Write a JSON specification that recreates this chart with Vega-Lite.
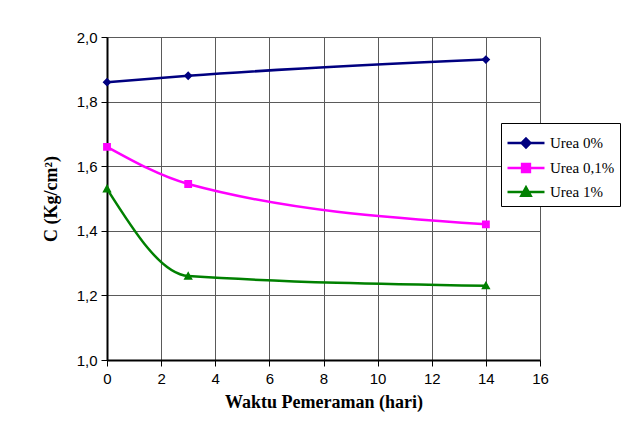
{
  "$schema": "https://vega.github.io/schema/vega-lite/v6.json",
  "width": 433,
  "height": 323,
  "autosize": {"type": "none"},
  "padding": {"left": 107, "top": 37, "right": 101, "bottom": 79},
  "background": "white",
  "data": {
    "values": [
      {"hari": 0, "c": 1.86, "series": "Urea 0%"},
      {"hari": 3, "c": 1.88, "series": "Urea 0%"},
      {"hari": 14, "c": 1.93, "series": "Urea 0%"},
      {"hari": 0, "c": 1.66, "series": "Urea 0,1%"},
      {"hari": 3, "c": 1.545, "series": "Urea 0,1%"},
      {"hari": 14, "c": 1.42, "series": "Urea 0,1%"},
      {"hari": 0, "c": 1.53, "series": "Urea 1%"},
      {"hari": 3, "c": 1.26, "series": "Urea 1%"},
      {"hari": 14, "c": 1.23, "series": "Urea 1%"}
    ]
  },
  "config": {
    "view": {"stroke": null},
    "axis": {
      "domainColor": "black",
      "domainWidth": 2,
      "tickColor": "black",
      "tickWidth": 1,
      "tickSize": 6,
      "gridColor": "#5a5a5a",
      "gridWidth": 1,
      "gridOpacity": 1,
      "labelFont": "Liberation Sans",
      "labelFontSize": 15,
      "labelColor": "black",
      "labelFlush": false,
      "titleFont": "Liberation Serif",
      "titleFontWeight": "bold",
      "titleFontSize": 18,
      "titleColor": "black"
    }
  },
  "encoding": {
    "x": {
      "field": "hari",
      "type": "quantitative",
      "scale": {"domain": [0, 16], "nice": false, "zero": false},
      "axis": {
        "title": "Waktu Pemeraman (hari)",
        "values": [0, 2, 4, 6, 8, 10, 12, 14, 16],
        "labelPadding": 5,
        "titlePadding": 7
      }
    },
    "y": {
      "field": "c",
      "type": "quantitative",
      "scale": {"domain": [1, 2], "nice": false, "zero": false},
      "axis": {
        "title": "C (Kg/cm²)",
        "values": [1, 1.2, 1.4, 1.6, 1.8, 2],
        "labelExpr": "replace(format(datum.value, '.1f'), '.', ',')",
        "labelPadding": 4,
        "titlePadding": 16
      }
    },
    "color": {
      "field": "series",
      "type": "nominal",
      "scale": {
        "domain": ["Urea 0%", "Urea 0,1%", "Urea 1%"],
        "range": ["#000080", "#ff00ff", "#008000"]
      },
      "legend": {
        "title": null,
        "orient": "none",
        "legendX": 394,
        "legendY": 86,
        "strokeColor": "black",
        "fillColor": "white",
        "padding": 5,
        "labelFont": "Liberation Serif",
        "labelFontSize": 15,
        "labelColor": "black",
        "labelOffset": 9,
        "symbolSize": 729,
        "symbolOffset": 5,
        "symbolStrokeWidth": 2.5,
        "rowPadding": 0,
        "encode": {
          "symbols": {
            "update": {
              "stroke": {"scale": "color", "field": "value"},
              "strokeWidth": {"value": 2.5},
              "opacity": {"value": 1}
            }
          }
        }
      }
    }
  },
  "layer": [
    {
      "mark": {"type": "line", "interpolate": "monotone", "strokeWidth": 2.5}
    },
    {
      "mark": {"type": "point", "filled": true, "opacity": 1, "size": 729},
      "encoding": {
        "shape": {
          "field": "series",
          "type": "nominal",
          "scale": {
            "domain": ["Urea 0%", "Urea 0,1%", "Urea 1%"],
            "range": [
              "M-1.37,0H1.37M0,-0.326L0.326,0L0,0.326L-0.326,0Z",
              "M-1.37,0H1.37M-0.29,-0.29H0.29V0.29H-0.29Z",
              "M-1.37,0H1.37M0,-0.35L0.345,0.27H-0.345Z"
            ]
          }
        }
      }
    }
  ]
}
